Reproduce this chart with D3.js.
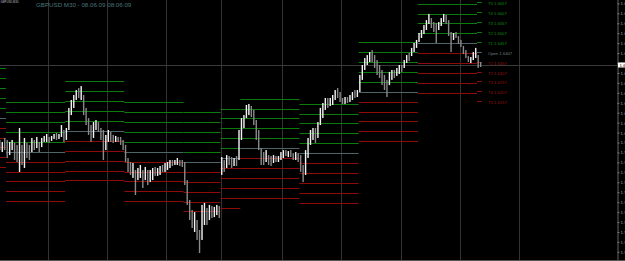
<!DOCTYPE html>
<html>
<head>
<meta charset="utf-8">
<script src="https://cdn.jsdelivr.net/npm/d3@7"></script>
<style>
  body { margin: 0; background: #000; }
  svg { display: block; }
</style>
</head>
<body>
<div id="chart"></div>
<script>
// GBPUSD bars, one entry per hour bar
const barHigh = [
  1.5963,1.5953,1.5973,1.5963,1.5953,1.5963,1.5948,1.5938,1.6023,1.5938,
  1.5973,1.5948,1.5938,1.5973,1.5963,1.5978,1.5953,1.5973,1.5983,1.5993,
  1.5978,1.5983,1.5993,1.5998,1.5993,1.6038,1.6013,1.6023,1.6124,1.6164,
  1.6189,1.6214,1.6224,1.6234,1.6189,1.6124,1.6073,1.6038,1.6053,1.6063,
  1.6053,1.6023,1.6013,1.5988,1.6013,1.6003,1.5988,1.5983,1.5978,1.5978,
  1.5963,1.5938,1.5872,1.5852,1.5847,1.5812,1.5822,1.5837,1.5812,1.5827,
  1.5812,1.5812,1.5822,1.5827,1.5822,1.5832,1.5837,1.5847,1.5852,1.5862,
  1.5862,1.5862,1.5872,1.5862,1.5862,1.5852,1.5761,1.5661,1.5611,1.5600,
  1.5560,1.5510,1.5636,1.5646,1.5621,1.5636,1.5631,1.5626,1.5636,1.5631,
  1.5877,1.5862,1.5887,1.5882,1.5877,1.5872,1.5882,1.6013,1.6073,1.6088,
  1.6139,1.6144,1.6134,1.6114,1.6063,1.6013,1.5922,1.5902,1.5912,1.5887,
  1.5882,1.5887,1.5882,1.5882,1.5902,1.5912,1.5912,1.5907,1.5912,1.5897,
  1.5902,1.5897,1.5887,1.5837,1.5912,1.5973,1.6013,1.6023,1.6023,1.6053,
  1.6124,1.6149,1.6174,1.6174,1.6174,1.6189,1.6214,1.6224,1.6204,1.6174,
  1.6179,1.6179,1.6189,1.6204,1.6214,1.6214,1.6290,1.6340,1.6375,1.6390,
  1.6405,1.6415,1.6390,1.6365,1.6340,1.6315,1.6290,1.6265,1.6305,1.6315,
  1.6315,1.6325,1.6340,1.6340,1.6365,1.6390,1.6400,1.6426,1.6451,1.6466,
  1.6501,1.6516,1.6541,1.6566,1.6597,1.6576,1.6556,1.6551,1.6556,1.6576,
  1.6597,1.6592,1.6566,1.6506,1.6501,1.6506,1.6486,1.6466,1.6436,1.6415,
  1.6385,1.6380,1.6405,1.6426,1.6390,1.6355
];
const barLow = [
  1.5912,1.5902,1.5912,1.5872,1.5887,1.5912,1.5862,1.5852,1.5802,1.5837,
  1.5822,1.5872,1.5862,1.5902,1.5912,1.5922,1.5902,1.5927,1.5953,1.5953,
  1.5948,1.5958,1.5968,1.5963,1.5968,1.5978,1.5953,1.5963,1.6013,1.6088,
  1.6124,1.6164,1.6174,1.6164,1.6088,1.6038,1.5988,1.5953,1.5973,1.6013,
  1.6003,1.5963,1.5862,1.5912,1.5953,1.5953,1.5948,1.5953,1.5953,1.5938,
  1.5912,1.5852,1.5802,1.5787,1.5772,1.5686,1.5761,1.5772,1.5721,1.5761,
  1.5736,1.5751,1.5761,1.5782,1.5782,1.5787,1.5802,1.5802,1.5812,1.5822,
  1.5832,1.5837,1.5837,1.5832,1.5827,1.5736,1.5636,1.5560,1.5520,1.5500,
  1.5460,1.5394,1.5460,1.5535,1.5535,1.5560,1.5570,1.5575,1.5585,1.5570,
  1.5787,1.5802,1.5822,1.5837,1.5822,1.5832,1.5832,1.5862,1.5963,1.6023,
  1.6073,1.6088,1.6078,1.6038,1.5963,1.5912,1.5837,1.5837,1.5852,1.5837,
  1.5832,1.5847,1.5852,1.5852,1.5862,1.5872,1.5882,1.5877,1.5877,1.5862,
  1.5862,1.5852,1.5802,1.5751,1.5787,1.5872,1.5938,1.5963,1.5948,1.5973,
  1.6038,1.6073,1.6114,1.6124,1.6134,1.6139,1.6164,1.6174,1.6154,1.6144,
  1.6144,1.6149,1.6154,1.6164,1.6174,1.6179,1.6204,1.6265,1.6315,1.6340,
  1.6355,1.6355,1.6325,1.6290,1.6275,1.6239,1.6214,1.6179,1.6239,1.6265,
  1.6275,1.6285,1.6295,1.6305,1.6325,1.6350,1.6360,1.6385,1.6405,1.6426,
  1.6456,1.6476,1.6496,1.6516,1.6546,1.6526,1.6506,1.6451,1.6516,1.6536,
  1.6556,1.6546,1.6486,1.6405,1.6466,1.6476,1.6446,1.6431,1.6395,1.6375,
  1.6355,1.6350,1.6365,1.6375,1.6325,1.6330
];
// u = up bar, d = down bar
const barDir = ("dudduuddud uddududuuu duuduuduuu uududddduu ddduuddudd " +
  "dddduduudu duuduuduuu duuddddddu dduududuud ududduduuu " +
  "uuddddddud duduuududd uddduuuudu uuuduuuddd uduuduuuuu " +
  "uddddddduu duuduuduuu uuuuuddduu uddduddddd duuudd").replace(/ /g, "");

// daily open levels: first hour bar, end bar, open price
const dayStart = [0, 3, 27, 51, 75, 90, 98, 122, 146, 170, 194];
const dayEnd   = [3, 27, 51, 75, 90, 98, 122, 146, 170, 194, 196];
const dayOpen  = [1.6075, 1.5904, 1.6009, 1.5904, 1.5853, 1.5871, 1.5921, 1.5896, 1.6206, 1.6449, 1.6407];
const levelSteps = [5, 4, 3, 2, 1, 0, -1, -2, -3, -4, -5];
const levelNames = ["T5", "T4", "T3", "T2", "T1", "Open", "T1", "T2", "T3", "T4", "T5"];
const levelStep = 0.0050;

const priceTicks = [1.6650,1.6600,1.6550,1.6500,1.6450,1.6400,1.6350,1.6300,1.6250,1.6200,
  1.6150,1.6100,1.6050,1.6000,1.5950,1.5900,1.5850,1.5800,1.5750,1.5700,
  1.5650,1.5600,1.5550,1.5500,1.5450,1.5400];
const bidPrice = 1.6340;
const gridHours = [20, 44, 68, 90, 115, 139, 163, 187, 211];
const title = "GBPUSD M30 - 08.06.09  08:06:09";
const symbolLabel = "GBPUSD,M30";

const W = 625, H = 261, plotW = 617.5, plotH = 260;
const barW = 2.466;

const svg = d3.select("#chart").append("svg")
  .attr("width", W).attr("height", H);

svg.append("rect").attr("width", W).attr("height", H).attr("fill", "#000");

svg.append("clipPath").attr("id", "plot")
  .append("rect").attr("width", plotW).attr("height", plotH);

const x = d3.scaleLinear().domain([0, 251]).range([-1.4, -1.4 + 251 * barW]);
const y = d3.scaleLinear().domain([1.6667, 1.5359]).range([0, plotH]);

const g = svg.append("g").attr("clip-path", "url(#plot)");

// grid
g.selectAll("line.grid")
  .data(gridHours)
  .enter().append("line")
  .attr("x1", d => Math.round(x(d)) + 0.5)
  .attr("x2", d => Math.round(x(d)) + 0.5)
  .attr("y1", 0).attr("y2", plotH)
  .attr("stroke", "#333");

// bid line
g.append("line")
  .attr("x1", 0).attr("x2", plotW)
  .attr("y1", Math.round(y(bidPrice)) + 0.5).attr("y2", Math.round(y(bidPrice)) + 0.5)
  .attr("stroke", "#3a3a3a");

// daily levels
const levels = [];
dayOpen.forEach((o, i) => {
  levelSteps.forEach((s, j) => {
    levels.push({ day: i, step: s, name: levelNames[j], price: o + s * levelStep });
  });
});

const levelColor = s => s > 0 ? "#0c7a0c" : s < 0 ? "#8e0b0b" : "#4e6468";

g.selectAll("line.level")
  .data(levels)
  .enter().append("line")
  .attr("x1", d => x(dayStart[d.day]))
  .attr("x2", d => x(dayEnd[d.day]))
  .attr("y1", d => Math.round(y(d.price)) + 0.5)
  .attr("y2", d => Math.round(y(d.price)) + 0.5)
  .attr("stroke", d => levelColor(d.step));

// bars
const bars = barHigh.map((h, i) => ({ i, high: h, low: barLow[i], up: barDir[i] === "u" }));

g.selectAll("rect.bar")
  .data(bars)
  .enter().append("rect")
  .attr("x", d => x(d.i) + 0.5)
  .attr("width", 1.4)
  .attr("y", d => y(d.high))
  .attr("height", d => Math.max(1, y(d.low) - y(d.high)))
  .attr("fill", d => d.up ? "#f4f4f4" : "#8a8a8a");

// labels for the current day
const last = dayOpen.length - 1;
g.selectAll("text.lvl")
  .data(levels.filter(d => d.day === last))
  .enter().append("text")
  .attr("x", x(dayEnd[last]) + 6)
  .attr("y", d => y(d.price) + 3)
  .attr("font-family", "Arial, Liberation Sans, sans-serif")
  .attr("font-size", 4.2)
  .attr("fill", d => d.step > 0 ? "#138a13" : d.step < 0 ? "#9a1010" : "#6d8084")
  .text(d => d.name + " " + d.price.toFixed(4));

// title
svg.append("text")
  .attr("x", 36).attr("y", 6.6)
  .attr("font-family", "Arial, Liberation Sans, sans-serif")
  .attr("font-size", 6.2)
  .attr("fill", "#4b747a")
  .text(title);

svg.append("text")
  .attr("x", 0.5).attr("y", 3)
  .attr("font-family", "Arial, Liberation Sans, sans-serif")
  .attr("font-size", 2.8)
  .attr("fill", "#bbb")
  .text(symbolLabel);

// borders
svg.append("line")
  .attr("x1", 0).attr("x2", W).attr("y1", plotH + 0.5).attr("y2", plotH + 0.5)
  .attr("stroke", "#555");

// price axis
const axis = svg.append("g")
  .attr("transform", `translate(${plotW},0)`)
  .call(d3.axisRight(y).tickValues(priceTicks).tickSize(2).tickPadding(1)
    .tickFormat(d3.format(".4f")));
axis.select(".domain").attr("stroke", "#666").attr("d", `M0.5,0V${plotH}`);
axis.selectAll(".tick line").attr("stroke", "#777");
axis.selectAll(".tick text")
  .attr("fill", "#aaa")
  .attr("font-size", 4.4)
  .attr("font-family", "Arial, Liberation Sans, sans-serif");

// bid box
svg.append("rect")
  .attr("x", plotW + 0.5).attr("y", y(bidPrice) - 2.5)
  .attr("width", 8).attr("height", 5)
  .attr("fill", "#fff");
svg.append("text")
  .attr("x", plotW + 2).attr("y", y(bidPrice) + 1.6)
  .attr("font-size", 4.4)
  .attr("font-family", "Arial, Liberation Sans, sans-serif")
  .attr("fill", "#000")
  .text(bidPrice.toFixed(4));
</script>
</body>
</html>
